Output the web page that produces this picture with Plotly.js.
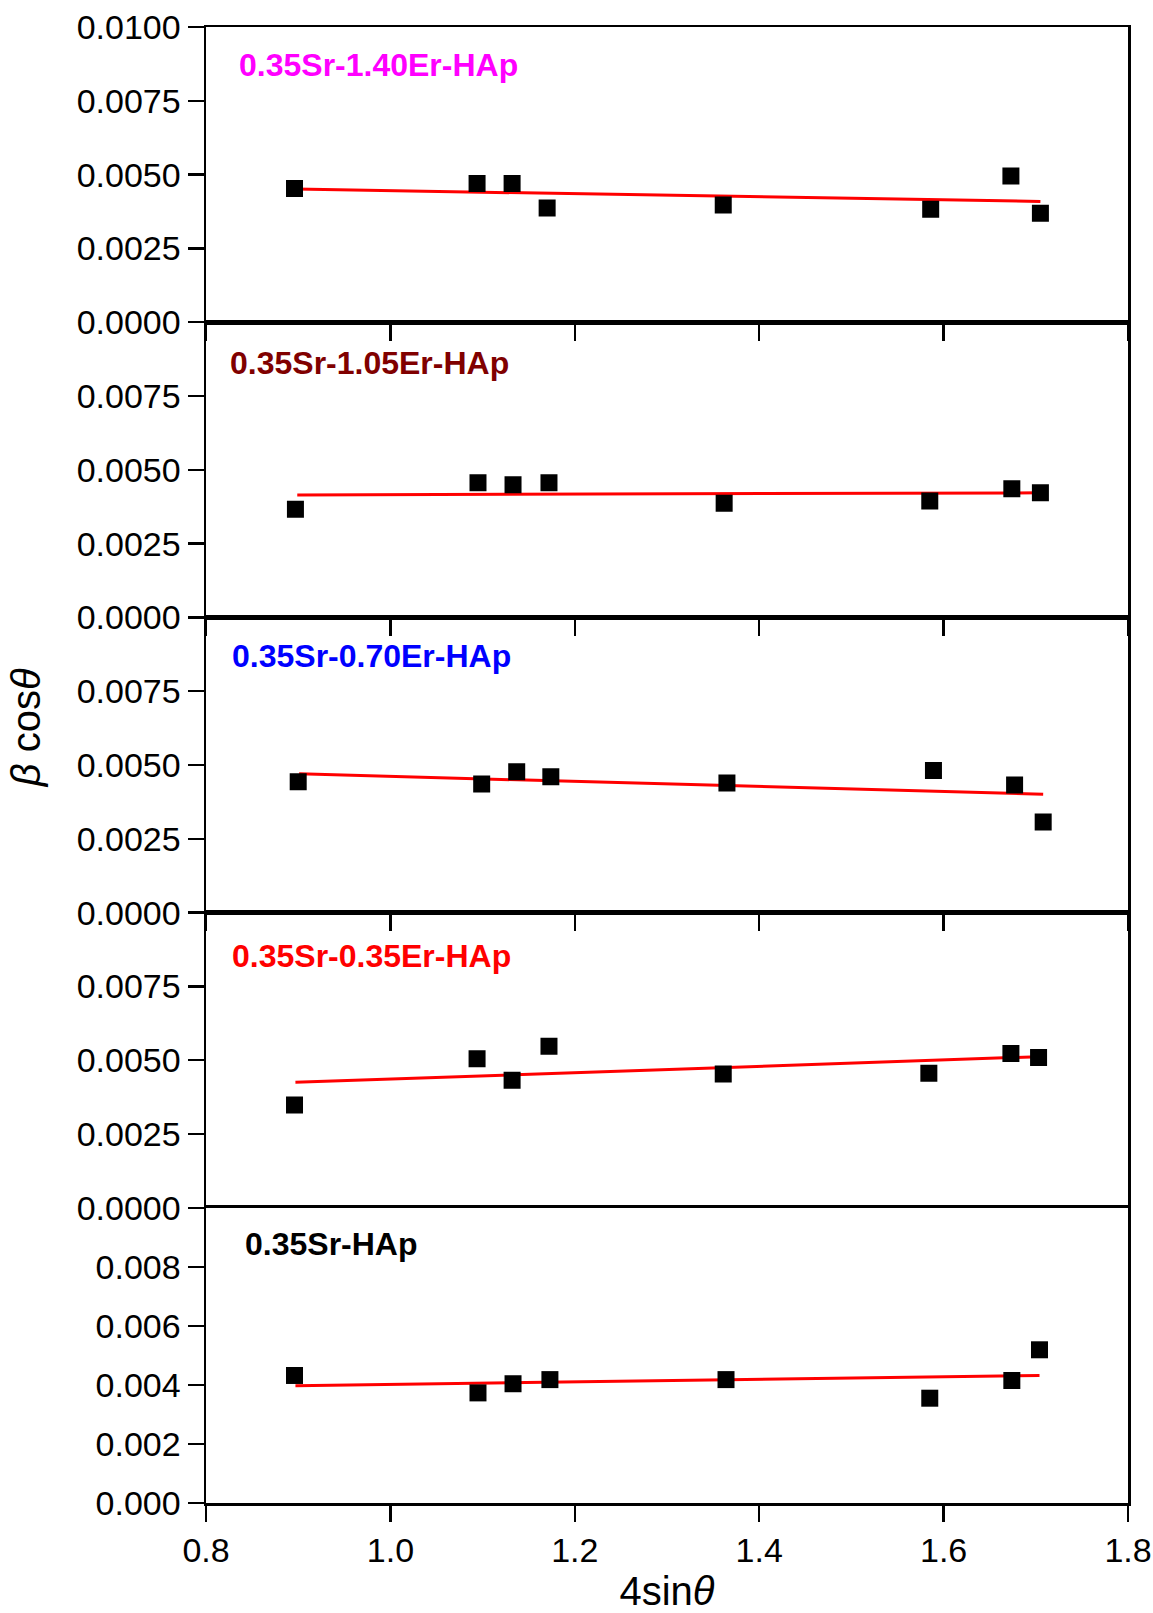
<!DOCTYPE html>
<html>
<head>
<meta charset="utf-8">
<script src="https://cdn.plot.ly/plotly-3.0.1.min.js"></script>
<style>html,body{margin:0;padding:0;background:#fff;}#chart{width:1153px;height:1613px;}</style>
</head>
<body>
<div id="chart"></div>
<script>
// ---- data ----
const panelLabels = ["0.35Sr-1.40Er-HAp", "0.35Sr-1.05Er-HAp", "0.35Sr-0.70Er-HAp", "0.35Sr-0.35Er-HAp", "0.35Sr-HAp"];
const labelColors = ["#FF00FF", "#800000", "#0000FF", "#FF0000", "#000000"];

const x140 = [0.896, 1.094, 1.132, 1.170, 1.361, 1.586, 1.673, 1.705];
const y140 = [0.00453, 0.00470, 0.00470, 0.00387, 0.00397, 0.00383, 0.00495, 0.00369];
const fitX140 = [0.897, 1.705];
const fitY140 = [0.00451, 0.00409];

const x105 = [0.897, 1.095, 1.133, 1.172, 1.362, 1.585, 1.674, 1.705];
const y105 = [0.00366, 0.00456, 0.00449, 0.00456, 0.00387, 0.00394, 0.00436, 0.00422];
const fitX105 = [0.899, 1.705];
const fitY105 = [0.00415, 0.00422];

const x070 = [0.900, 1.099, 1.137, 1.174, 1.365, 1.589, 1.677, 1.708];
const y070 = [0.00443, 0.00436, 0.00477, 0.00460, 0.00439, 0.00481, 0.00432, 0.00307];
const fitX070 = [0.901, 1.708];
const fitY070 = [0.00470, 0.00401];

const x035 = [0.896, 1.094, 1.132, 1.172, 1.361, 1.584, 1.673, 1.703];
const y035 = [0.00348, 0.00505, 0.00432, 0.00547, 0.00453, 0.00456, 0.00523, 0.00509];
const fitX035 = [0.897, 1.703];
const fitY035 = [0.00425, 0.00512];

const x000 = [0.896, 1.095, 1.133, 1.173, 1.364, 1.585, 1.674, 1.704];
const y000 = [0.00432, 0.00373, 0.00404, 0.00418, 0.00418, 0.00355, 0.00415, 0.00519];
const fitX000 = [0.897, 1.704];
const fitY000 = [0.00397, 0.00432];

const xTickVals = [0.8, 1.0, 1.2, 1.4, 1.6, 1.8];
const yTickValsA = [0, 0.0025, 0.005, 0.0075, 0.01];
const yTickValsB = [0, 0.0025, 0.005, 0.0075];
const yTickValsC = [0, 0.002, 0.004, 0.006, 0.008];

const seriesX = [x140, x105, x070, x035, x000];
const seriesY = [y140, y105, y070, y035, y000];
const fitXs = [fitX140, fitX105, fitX070, fitX035, fitX000];
const fitYs = [fitY140, fitY105, fitY070, fitY035, fitY000];

// ---- build ----
const FONT = "Liberation Sans, Arial, sans-serif";
const traces = [];
const layout = {
  width: 1153, height: 1613,
  margin: {l: 206, r: 25, t: 27, b: 110},
  paper_bgcolor: "#fff", plot_bgcolor: "#fff",
  showlegend: false,
  font: {family: FONT, color: "#000"},
  annotations: []
};
const labelPos = [[0.834, 0.00871], [0.824, 0.00861], [0.826, 0.00868], [0.826, 0.00854], [0.840, 0.00878]];

for (let i = 0; i < 5; i++) {
  const n = i + 1;
  const xa = n === 1 ? "x" : "x" + n;
  const ya = n === 1 ? "y" : "y" + n;
  traces.push({
    x: fitXs[i], y: fitYs[i], xaxis: xa, yaxis: ya,
    mode: "lines", line: {color: "#FF0000", width: 3}, hoverinfo: "skip"
  });
  traces.push({
    x: seriesX[i], y: seriesY[i], xaxis: xa, yaxis: ya,
    mode: "markers", marker: {symbol: "square", size: 17, color: "#000"}
  });
  const top = 1 - i * 0.2, bot = top - 0.2;
  const isBottom = n === 5;
  layout[n === 1 ? "xaxis" : "xaxis" + n] = {
    domain: [0, 1], anchor: ya, range: [0.8, 1.8],
    tickvals: xTickVals, ticktext: xTickVals.map(v => v.toFixed(1)),
    showticklabels: isBottom, ticks: "outside", ticklen: 16, tickwidth: 2.5, tickcolor: "#000",
    showline: true, linecolor: "#000", linewidth: 2.5, mirror: true,
    showgrid: false, zeroline: false,
    tickfont: {family: FONT, size: 34, color: "#000"},
    title: isBottom ? {text: "4sin<i>θ</i>", font: {family: FONT, size: 40, color: "#000"}, standoff: 12} : undefined
  };
  const tv = n === 1 ? yTickValsA : (n === 5 ? yTickValsC : yTickValsB);
  layout[n === 1 ? "yaxis" : "yaxis" + n] = {
    domain: [bot, top], anchor: xa, range: [0, 0.01],
    tickvals: tv, ticktext: tv.map(v => n === 5 ? v.toFixed(3) : v.toFixed(4)),
    ticks: "outside", ticklen: 16, tickwidth: 2.5, tickcolor: "#000",
    showline: true, linecolor: "#000", linewidth: 2.5, mirror: true,
    showgrid: false, zeroline: false,
    tickfont: {family: FONT, size: 34, color: "#000"}
  };
  layout.annotations.push({
    xref: xa, yref: ya, x: labelPos[i][0], y: labelPos[i][1],
    xanchor: "left", yanchor: "middle", showarrow: false,
    text: "<b>" + panelLabels[i] + "</b>",
    font: {family: FONT, size: 32, color: labelColors[i]}
  });
}
layout.annotations.push({
  xref: "paper", yref: "paper", x: -0.195, y: 0.525,
  xanchor: "center", yanchor: "middle", showarrow: false, textangle: -90,
  text: "<i>β</i> cos<i>θ</i>",
  font: {family: FONT, size: 40, color: "#000"}
});

Plotly.newPlot("chart", traces, layout, {staticPlot: true, displayModeBar: false});
</script>
</body>
</html>
